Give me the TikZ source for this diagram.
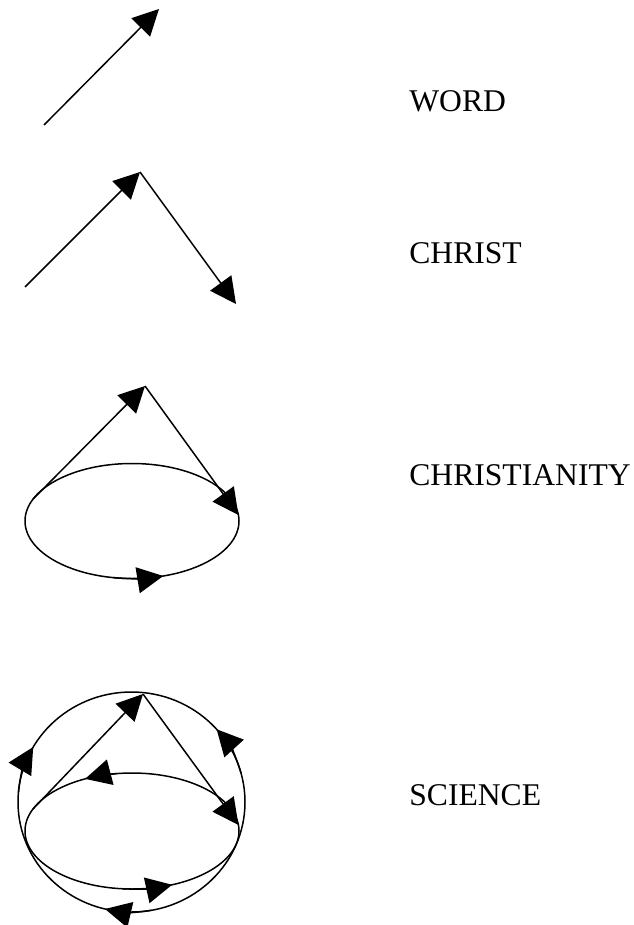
\documentclass[tikz,border=0pt]{standalone}
\usepackage{fontspec}
\setmainfont{Liberation Serif}
\usetikzlibrary{arrows.meta}

\begin{document}
\begin{tikzpicture}[x=0.02cm, y=-0.02cm,
      arr/.style = {-{Triangle[length=5.2mm, width=5.2mm]}, line width=0.85pt},
      ln/.style  = {line width=0.85pt},
      lbl/.style = {anchor=base west, inner sep=0pt,
                    font=\fontsize{18}{22}\selectfont}
    ]
    \useasboundingbox (0,0) rectangle (634,925);

    % WORD
    \coordinate (w0) at (44,125);
    \coordinate (w1) at (159,9);
    \draw[arr] (w0) -- (w1);
    \node[lbl] (word) at (409,112) {WORD};

    % CHRIST
    \coordinate (c0) at (25,287);
    \coordinate (c1) at (140,172);
    \coordinate (c2) at (236,304);
    \draw[arr] (c0) -- (c1);
    \draw[arr] (c1) -- (c2);
    \node[lbl] (christ) at (409,264) {CHRIST};

    % CHRISTIANITY
    \coordinate (e3) at (132,521);
    \coordinate (a3) at (145,386);
    \coordinate (l3) at ([shift={(e3)}]202.3:107 and 57.5);
    \coordinate (r3) at ([shift={(e3)}]354:107 and 57.5);
    \draw[ln] (e3) ellipse [x radius=107, y radius=57.5];
    \draw[arr] (l3) -- (a3);
    \draw[arr] (a3) -- (r3);
    \draw[arr] ([shift={(e3)}]100:107 and 57.5)
               arc[start angle=100, end angle=73, x radius=107, y radius=57.5];
    \node[lbl] (christianity) at (409,485) {CHRISTIANITY};

    % SCIENCE
    \coordinate (o4) at (131.5,802);
    \coordinate (e4) at (132,831);
    \coordinate (a4) at (143,694);
    \coordinate (l4) at ([shift={(e4)}]202.3:107 and 58);
    \coordinate (r4) at ([shift={(e4)}]354:107 and 58);
    \draw[ln] (o4) ellipse [x radius=113.5, y radius=110];
    \draw[ln] (e4) ellipse [x radius=107, y radius=58];
    \draw[arr] (l4) -- (a4);
    \draw[arr] (a4) -- (r4);
    \draw[arr] ([shift={(o4)}]185:113.5 and 110)
               arc[start angle=185, end angle=210, x radius=113.5, y radius=110];
    \draw[arr] ([shift={(o4)}]345:113.5 and 110)
               arc[start angle=345, end angle=318.6, x radius=113.5, y radius=110];
    \draw[arr] ([shift={(o4)}]80:113.5 and 110)
               arc[start angle=80, end angle=103.5, x radius=113.5, y radius=110];
    \draw[arr] ([shift={(e4)}]262:107 and 58)
               arc[start angle=262, end angle=244, x radius=107, y radius=58];
    \draw[arr] ([shift={(e4)}]95:107 and 58)
               arc[start angle=95, end angle=68, x radius=107, y radius=58];
    \node[lbl] (science) at (409,805) {SCIENCE};
\end{tikzpicture}
\end{document}
